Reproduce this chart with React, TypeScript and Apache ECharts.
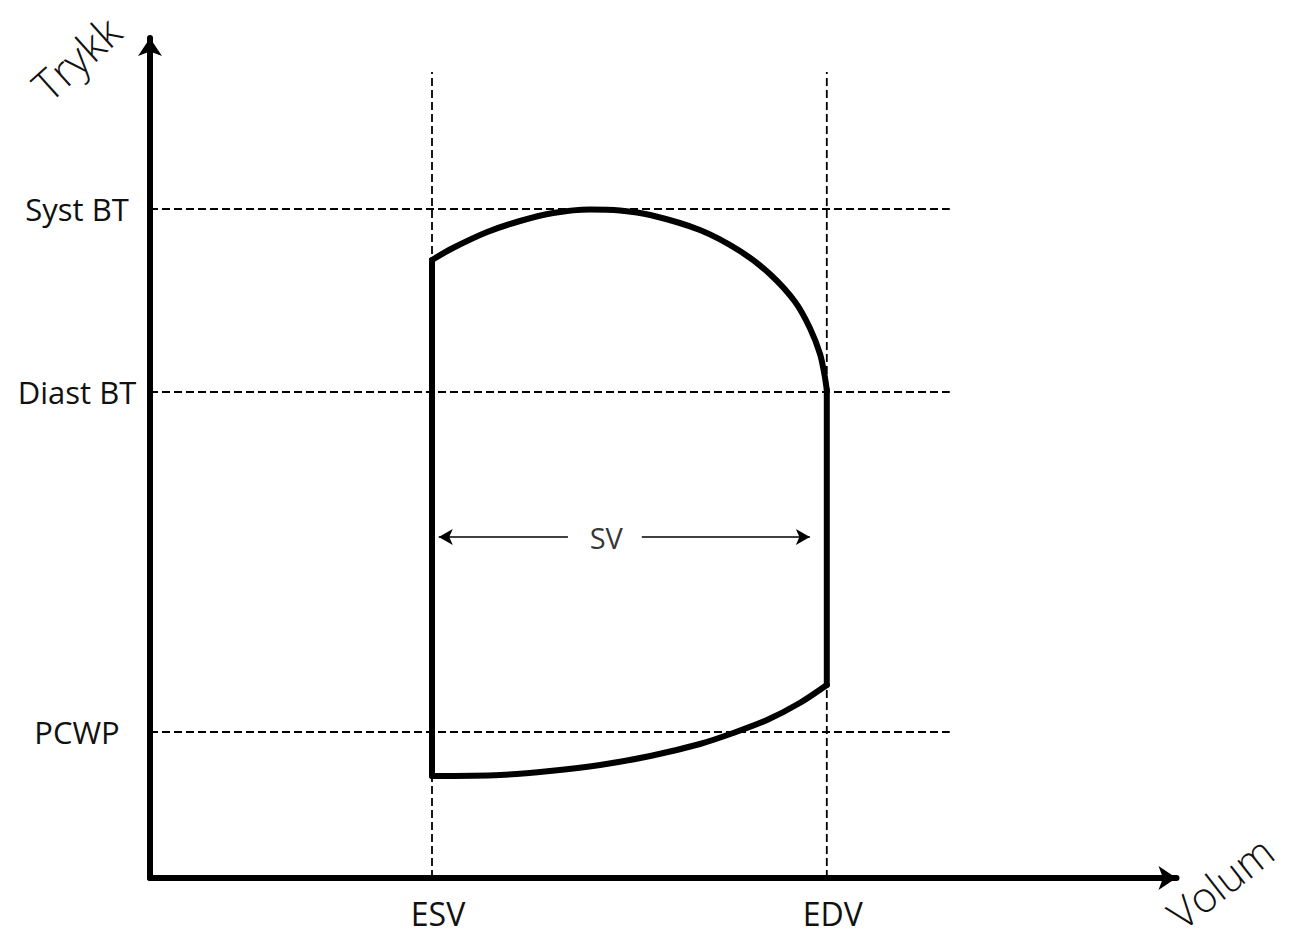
import React, { useEffect, useRef } from 'react';
import * as echarts from 'echarts';

// Volume (x) landmarks
const ESV = 50;
const EDV = 120;
const volumeTickValues = [ESV, EDV];
const volumeTickLabels = ['ESV', 'EDV'];

// Pressure (y) landmarks
const SYST = 133.8;
const DIAST = 97.2;
const PCWP = 29.2;
const pressureTickValues = [PCWP, DIAST, SYST];
const pressureTickLabels = ['PCWP', 'Diast BT', 'Syst BT'];

// Axis extents
const X_MAX = 182;
const Y_MAX = 168;
const refLineRight = 141.8;
const refLineTop = 161.2;

// Pressure-volume loop pieces
const ejectionCurve: number[][] = [
  [50.0, 123.6],
  [53.7, 126.0],
  [59.8, 129.2],
  [65.6, 131.4],
  [71.5, 133.0],
  [78.0, 133.7],
  [83.3, 133.5],
  [88.7, 132.6],
  [97.5, 129.6],
  [104.6, 125.4],
  [109.9, 120.8],
  [114.4, 115.2],
  [117.0, 110.0],
  [118.8, 104.8],
  [119.6, 100.6],
  [120.0, 97.6],
];
const fillingCurve: number[][] = [
  [50.0, 20.4],
  [62.1, 20.6],
  [70.9, 21.4],
  [79.8, 22.6],
  [88.7, 24.4],
  [97.5, 26.8],
  [103.4, 29.0],
  [109.4, 31.6],
  [115.2, 35.0],
  [120.0, 38.6],
];
const relaxationLine: number[][] = [
  [ESV, 123.6],
  [ESV, 20.4],
];
const contractionLine: number[][] = [
  [EDV, 38.6],
  [EDV, 97.6],
];

// Stroke volume arrow
const SV_LEVEL = 68.2;
const svLeftArrow = [51.2, 74.1];
const svRightArrow = [87.2, 117.0];
const svLabelX = 80.9;

const FONT = '"Open Sans", "Noto Sans", sans-serif';

function labelFor(values: number[], labels: string[], v: number) {
  let best = 0;
  for (let i = 1; i < values.length; i++) {
    if (Math.abs(values[i] - v) < Math.abs(values[best] - v)) best = i;
  }
  return labels[best];
}

export default function App() {
  const ref = useRef<HTMLDivElement>(null);

  useEffect(() => {
    document.body.style.margin = '0';
    if (!ref.current) return;
    const chart = echarts.init(ref.current, undefined, { renderer: 'svg' });

    const dashed = { color: '#000', width: 1.8, type: [8, 4] as number[] };
    const loopStyle = { color: '#000', width: 6, cap: 'round' as const, join: 'round' as const };

    const hLine = (y: number) => ({
      type: 'line',
      data: [
        [0, y],
        [refLineRight, y],
      ],
      symbol: 'none',
      silent: true,
      lineStyle: dashed,
      z: 1,
    });
    const vLine = (x: number) => ({
      type: 'line',
      data: [
        [x, 0],
        [x, refLineTop],
      ],
      symbol: 'none',
      silent: true,
      lineStyle: dashed,
      z: 1,
    });

    const option: any = {
      animation: false,
      backgroundColor: '#fff',
      grid: {
        left: 150,
        top: 38,
        width: X_MAX * 5.64,
        height: Y_MAX * 5,
        containLabel: false,
        outerBoundsMode: 'none',
      },
      xAxis: {
        type: 'value',
        min: 0,
        max: X_MAX,
        splitLine: { show: false },
        axisTick: { show: false },
        axisLine: {
          show: true,
          onZero: false,
          symbol: ['none', 'arrow'],
          symbolSize: [18, 18],
          lineStyle: { color: '#000', width: 6 },
        },
        axisLabel: {
          customValues: volumeTickValues,
          formatter: (v: number) => labelFor(volumeTickValues, volumeTickLabels, v),
          fontFamily: FONT,
          fontSize: 32,
          color: '#111',
          margin: 19,
          padding: [0, 0, 0, 12],
        },
      },
      yAxis: {
        type: 'value',
        min: 0,
        max: Y_MAX,
        splitLine: { show: false },
        axisTick: { show: false },
        axisLine: {
          show: true,
          onZero: false,
          symbol: ['none', 'arrow'],
          symbolSize: [18, 18],
          lineStyle: { color: '#000', width: 6 },
        },
        axisLabel: {
          customValues: pressureTickValues,
          formatter: (v: number) => labelFor(pressureTickValues, pressureTickLabels, v),
          fontFamily: FONT,
          fontSize: 31,
          color: '#111',
          margin: 73,
          align: 'center',
        },
      },
      series: [
        ...pressureTickValues.map(hLine),
        ...volumeTickValues.map(vLine),
        {
          type: 'line',
          data: ejectionCurve,
          symbol: 'none',
          smooth: 0.3,
          lineStyle: loopStyle,
          z: 3,
        },
        {
          type: 'line',
          data: fillingCurve,
          symbol: 'none',
          smooth: 0.3,
          lineStyle: loopStyle,
          z: 3,
        },
        {
          type: 'line',
          data: relaxationLine,
          symbol: 'none',
          lineStyle: loopStyle,
          z: 3,
        },
        {
          type: 'line',
          data: contractionLine,
          symbol: 'none',
          lineStyle: loopStyle,
          z: 3,
        },
        {
          type: 'scatter',
          data: [[svLabelX, SV_LEVEL]],
          symbolSize: 0,
          silent: true,
          label: {
            show: true,
            position: 'inside',
            formatter: 'SV',
            fontFamily: FONT,
            fontSize: 29,
            color: '#000',
          },
          markLine: {
            silent: true,
            animation: false,
            label: { show: false },
            lineStyle: { color: '#000', width: 1.5, type: 'solid' },
            symbolSize: [12, 14],
            data: [
              [
                { coord: [svLeftArrow[0], SV_LEVEL], symbol: 'arrow' },
                { coord: [svLeftArrow[1], SV_LEVEL], symbol: 'none' },
              ],
              [
                { coord: [svRightArrow[0], SV_LEVEL], symbol: 'none' },
                { coord: [svRightArrow[1], SV_LEVEL], symbol: 'arrow' },
              ],
            ],
          },
          z: 4,
        },
      ],
      graphic: [
        {
          type: 'text',
          x: 76,
          y: 58,
          rotation: (42 * Math.PI) / 180,
          style: {
            text: 'Trykk',
            fontFamily: FONT,
            fontSize: 43,
            fontWeight: 300,
            fill: '#111',
            align: 'center',
            verticalAlign: 'middle',
          },
        },
        {
          type: 'text',
          x: 1220,
          y: 882,
          rotation: (38 * Math.PI) / 180,
          style: {
            text: 'Volum',
            fontFamily: FONT,
            fontSize: 42,
            fontWeight: 300,
            fill: '#111',
            align: 'center',
            verticalAlign: 'middle',
          },
        },
      ],
    };

    chart.setOption(option);
    return () => chart.dispose();
  }, []);

  return <div ref={ref} style={{ width: 1289, height: 941 }} />;
}
